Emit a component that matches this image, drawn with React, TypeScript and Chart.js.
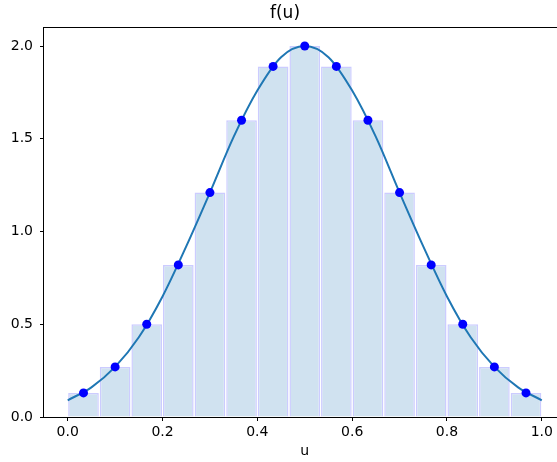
import { useEffect, useRef } from "react";
import { Chart, registerables } from "chart.js";

Chart.register(...registerables);

const binCenters = [0.0333, 0.1, 0.1667, 0.2333, 0.3, 0.3667, 0.4333, 0.5, 0.5667, 0.6333, 0.7, 0.7667, 0.8333, 0.9, 0.9667];
const binHeights = [0.13, 0.27, 0.5, 0.82, 1.21, 1.6, 1.89, 2.0, 1.89, 1.6, 1.21, 0.82, 0.5, 0.27, 0.13];
const curveX = [0, 0.05, 0.1, 0.15, 0.2, 0.25, 0.3, 0.35, 0.4, 0.45, 0.5, 0.55, 0.6, 0.65, 0.7, 0.75, 0.8, 0.85, 0.9, 0.95, 1.0];
const curveY = [0.09, 0.16, 0.27, 0.43, 0.65, 0.92, 1.21, 1.51, 1.76, 1.94, 2.0, 1.94, 1.76, 1.51, 1.21, 0.92, 0.65, 0.43, 0.27, 0.16, 0.09];
const xTicks = [0, 0.2, 0.4, 0.6, 0.8, 1.0];
const yTicks = [0, 0.5, 1.0, 1.5, 2.0];

const FONT = "DejaVu Sans";

export default function App() {
  const ref = useRef<HTMLCanvasElement>(null);

  useEffect(() => {
    if (!ref.current) return;
    const spines = {
      id: "spines",
      afterDatasetsDraw(chart: any) {
        const { ctx, chartArea: a } = chart;
        ctx.save();
        ctx.strokeStyle = "#000";
        ctx.lineWidth = 1;
        const l = Math.round(a.left) - 0.5;
        const t = Math.round(a.top) - 0.5;
        const r = Math.round(a.right) + 0.5;
        const b = Math.round(a.bottom) + 0.5;
        ctx.strokeRect(l, t, r - l, b - t);
        ctx.restore();
      },
    };

    const chart = new Chart(ref.current, {
      type: "bar",
      data: {
        datasets: [
          {
            type: "scatter",
            data: binCenters.map((x, i) => ({ x, y: binHeights[i] })),
            backgroundColor: "#0000ff",
            borderColor: "#0000ff",
            borderWidth: 0,
            pointRadius: 4.5,
            order: 0,
          } as any,
          {
            type: "line",
            data: curveX.map((x, i) => ({ x, y: curveY[i] })),
            borderColor: "#1f77b4",
            borderWidth: 2,
            pointRadius: 0,
            fill: false,
            cubicInterpolationMode: "monotone",
            order: 1,
          } as any,
          {
            type: "bar",
            data: binCenters.map((x, i) => ({ x, y: binHeights[i] })),
            backgroundColor: "rgb(208,226,240)",
            borderColor: "rgba(110,110,255,0.35)",
            borderWidth: 1.5,
            barPercentage: 0.97,
            categoryPercentage: 1,
            order: 2,
          } as any,
        ],
      },
      options: {
        animation: false,
        responsive: false,
        devicePixelRatio: 1,
        layout: { padding: { left: 0, right: 0, top: 0, bottom: 0 } },
        plugins: {
          legend: { display: false },
          tooltip: { enabled: false },
          title: {
            display: true,
            text: "f(u)",
            color: "#000",
            font: { family: FONT, size: 17, weight: "normal", lineHeight: 1.2 },
            padding: { top: 3, bottom: 5 },
          },
        },
        scales: {
          x: {
            type: "linear",
            min: -0.05,
            max: 1.05,
            offset: false,
            afterBuildTicks: (s: any) => {
              s.ticks = xTicks.map((v) => ({ value: v }));
            },
            afterFit: (s: any) => {
              s.height = 45;
              s.paddingLeft = 0;
              s.paddingRight = 0;
            },
            ticks: {
              callback: (v: any) => Number(v).toFixed(1),
              font: { family: FONT, size: 14 },
              color: "#000",
              padding: 3,
              maxRotation: 0,
              autoSkip: false,
            },
            grid: { display: true, drawOnChartArea: false, drawTicks: true, tickLength: 4, tickColor: "#000", offset: false },
            border: { display: false },
            title: {
              display: true,
              text: "u",
              color: "#000",
              font: { family: FONT, size: 14 },
              padding: { top: 0, bottom: 2 },
            },
          },
          y: {
            type: "linear",
            min: 0,
            max: 2.095,
            afterBuildTicks: (s: any) => {
              s.ticks = yTicks.map((v) => ({ value: v }));
            },
            afterFit: (s: any) => {
              s.width = 44;
              s.paddingTop = 0;
              s.paddingBottom = 0;
            },
            ticks: {
              callback: (v: any) => Number(v).toFixed(1),
              font: { family: FONT, size: 14 },
              color: "#000",
              padding: 7,
            },
            grid: { display: true, drawOnChartArea: false, drawTicks: true, tickLength: 4, tickColor: "#000" },
            border: { display: false },
          },
        },
      },
      plugins: [spines],
    } as any);

    return () => chart.destroy();
  }, []);

  return (
    <div style={{ position: "fixed", left: 0, top: 0, width: 557, height: 462, overflow: "hidden", background: "#fff" }}>
      <canvas ref={ref} width={570} height={462} style={{ display: "block", width: 570, height: 462 }} />
    </div>
  );
}
